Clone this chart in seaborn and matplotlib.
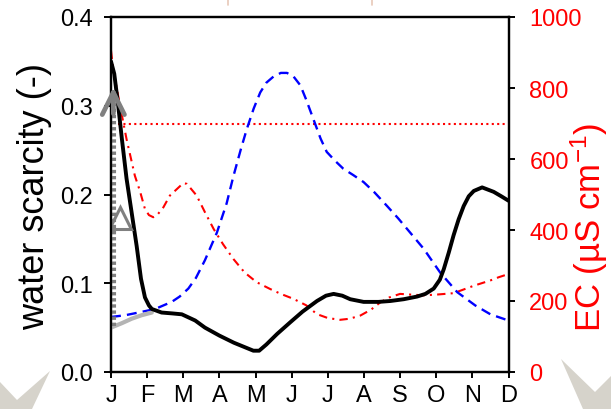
import matplotlib
matplotlib.use("Agg")
import matplotlib.pyplot as plt
import seaborn as sns
import pandas as pd
from matplotlib.patches import Polygon
from matplotlib.lines import Line2D

# ---------------- data (month index 0 = Jan ... 11 = Dec) ----------------
months = ["J", "F", "M", "A", "M", "J", "J", "A", "S", "O", "N", "D"]

# water scarcity (black, solid, left axis)
ws_x = [0.0, 0.09, 0.20, 0.30, 0.43, 0.57, 0.71, 0.83, 0.94, 1.05, 1.13, 1.40,
        1.70, 1.96, 2.33, 2.60, 3.0, 3.4, 3.7, 3.94, 4.1, 4.3, 4.6, 4.96, 5.3,
        5.7, 5.95, 6.16, 6.4, 6.62, 6.99, 7.4, 7.73, 8.1, 8.47, 8.7, 8.93, 9.1,
        9.21, 9.35, 9.48, 9.62, 9.76, 9.9, 10.04, 10.27, 10.59, 10.8, 11.0]
ws_y = [0.350, 0.336, 0.300, 0.263, 0.218, 0.180, 0.142, 0.105, 0.084, 0.075,
        0.071, 0.067, 0.066, 0.065, 0.058, 0.050, 0.041, 0.033, 0.028, 0.024,
        0.024, 0.031, 0.043, 0.056, 0.068, 0.080, 0.086, 0.088, 0.086, 0.082,
        0.079, 0.079, 0.080, 0.082, 0.085, 0.088, 0.094, 0.104, 0.116, 0.135,
        0.154, 0.172, 0.187, 0.198, 0.204, 0.208, 0.203, 0.198, 0.193]

# blue dashed series (left axis)
bl_x = [0.0, 0.4, 0.76, 1.22, 1.68, 1.9, 2.14, 2.35, 2.6, 2.93, 3.2, 3.39, 3.6,
        3.76, 3.95, 4.13, 4.3, 4.5, 4.7, 4.87, 5.05, 5.24, 5.4, 5.6, 5.8, 5.97,
        6.2, 6.43, 6.7, 6.99, 7.3, 7.64, 7.95, 8.28, 8.65, 9.11, 9.58, 10.08,
        10.5, 11.0]
bl_y = [0.062, 0.064, 0.067, 0.071, 0.079, 0.085, 0.094, 0.106, 0.126, 0.157,
        0.190, 0.221, 0.252, 0.274, 0.297, 0.315, 0.326, 0.333, 0.337, 0.337,
        0.333, 0.323, 0.307, 0.285, 0.263, 0.248, 0.238, 0.229, 0.222, 0.214,
        0.202, 0.187, 0.173, 0.157, 0.139, 0.112, 0.090, 0.075, 0.065, 0.058]

# EC (red dash-dot, right axis)
ec_x = [0.0, 0.06, 0.25, 0.43, 0.66, 0.80, 0.94, 1.05, 1.17, 1.30, 1.45, 1.63,
        1.82, 2.0, 2.10, 2.37, 2.6, 2.84, 3.1, 3.39, 3.7, 4.03, 4.4, 4.7, 5.05,
        5.4, 5.70, 6.0, 6.34, 6.6, 6.9, 7.2, 7.45, 7.7, 8.0, 8.3, 8.65, 9.0,
        9.48, 10.04, 10.5, 10.73, 11.0]
ec_y = [905, 853, 750, 656, 553, 510, 459, 442, 436, 445, 464, 497, 515, 532,
        530, 497, 450, 403, 360, 318, 280, 253, 234, 220, 206, 188, 163, 152,
        147, 150, 159, 176, 196, 210, 220, 218, 216, 218, 222, 243, 258, 267,
        276]

# EC threshold (red dotted)
ec_limit = 700
limit_x = [0.2, 11.0]

# grey light line (left axis)
gr_x = [0.0, 0.3, 0.57, 0.85, 1.13]
gr_y = [0.050, 0.055, 0.060, 0.064, 0.067]

# grey dotted arrow and triangle marker
arrow_x = 0.065
arrow_y0 = 0.052
arrow_tip = 0.321
tri_x = 0.26
tri_y = 0.174

left_ticks = [0.0, 0.1, 0.2, 0.3, 0.4]
right_ticks = [0, 200, 400, 600, 800, 1000]

# ---------------- style ----------------
sns.set_style("ticks")
plt.rcParams["font.family"] = ["Liberation Sans", "DejaVu Sans"]
plt.rcParams["mathtext.fontset"] = "custom"
plt.rcParams["mathtext.rm"] = "Liberation Sans"
plt.rcParams["mathtext.it"] = "Liberation Sans:italic"
plt.rcParams["mathtext.bf"] = "Liberation Sans:bold"

fig = plt.figure(figsize=(6.11, 4.10), dpi=100)
W, H = 611, 410

# background decorations (grey chevrons at the figure corners)
chev = "#d6d3cb"
for pts in ([(0, 383), (17, 401), (50, 372), (32, 410), (0, 410)],
            [(561, 360), (595, 393), (611, 377), (611, 410), (583, 410)]):
    fig.patches.append(Polygon([(x / W, 1 - y / H) for x, y in pts],
                               closed=True, transform=fig.transFigure,
                               facecolor=chev, edgecolor="none", zorder=0))
for xx in (228, 372):
    fig.lines.append(Line2D([xx / W, xx / W], [1, 1 - 6 / H],
                            transform=fig.transFigure, color="#e8c8b8", lw=1.2))

ax = fig.add_axes([111 / W, 1 - 373 / H, (508.5 - 111) / W, (373 - 18) / H])
ax2 = ax.twinx()
ax.set_zorder(ax2.get_zorder() + 1)
ax.patch.set_visible(False)

# right axis: EC
sns.lineplot(x=ec_x, y=ec_y, ax=ax2, color="#ff0000", lw=1.5, sort=False,
             estimator=None, dashes=False)
ax2.lines[-1].set_dashes([4, 2.5, 1, 2.5])
sns.lineplot(x=limit_x, y=[ec_limit, ec_limit], ax=ax2, color="#ff0000",
             lw=1.5, sort=False, estimator=None)
ax2.lines[-1].set_dashes([1, 1.6])

# left axis
sns.lineplot(x=bl_x, y=bl_y, ax=ax, color="#0000ff", lw=1.7, sort=False,
             estimator=None)
ax.lines[-1].set_dashes([4.2, 2.6])
sns.lineplot(x=gr_x, y=gr_y, ax=ax, color="#b4b4b4", lw=3.0, sort=False,
             estimator=None)
sns.lineplot(x=ws_x, y=ws_y, ax=ax, color="black", lw=2.8, sort=False,
             estimator=None)
sns.lineplot(x=[arrow_x, arrow_x], y=[arrow_y0, arrow_tip - 0.012], ax=ax,
             color="#808080", lw=4.4, sort=False, estimator=None)
ax.lines[-1].set_dashes([0.55, 0.45])
ax.annotate("", xy=(arrow_x, arrow_tip), xytext=(arrow_x, arrow_tip - 0.03),
            arrowprops=dict(arrowstyle="->,head_length=0.8,head_width=0.4",
                            color="#808080", lw=3.4, mutation_scale=20,
                            shrinkA=0, shrinkB=0))
ax.plot([tri_x], [tri_y], marker="^", ms=16, mfc="none", mec="#808080",
        mew=2.2, ls="none")

# axes formatting
ax.set_xlim(0, 11)
ax.set_ylim(0, 0.4)
ax2.set_ylim(0, 1000)
ax.set_xticks(range(12))
ax.set_xticklabels(months)
ax.set_yticks(left_ticks)
ax.set_yticklabels([f"{t:.1f}" for t in left_ticks])
ax2.set_yticks(right_ticks)
ax2.set_yticklabels([str(t) for t in right_ticks])

for a in (ax, ax2):
    for s in a.spines.values():
        s.set_visible(True)
        s.set_color("black")
        s.set_linewidth(1.6)
ax.tick_params(axis="x", direction="out", length=4, width=1.4, labelsize=17,
               pad=5, colors="black")
ax.tick_params(axis="y", direction="out", length=5, width=1.4, labelsize=17,
               pad=8, colors="black")
ax2.tick_params(axis="y", direction="out", length=4, width=1.4, labelsize=17,
                pad=11, color="black", labelcolor="#ff0000")

ax.set_xlabel("")
ax.set_ylabel("water scarcity (-)", fontsize=26, color="black")
ax.yaxis.set_label_coords(-0.148, 0.497)
ax2.set_ylabel("EC (µS cm$^{-1}$)", fontsize=25, color="#ff0000")
ax2.yaxis.set_label_coords(1.152, 0.41)

fig.savefig("out.png", dpi=100)
